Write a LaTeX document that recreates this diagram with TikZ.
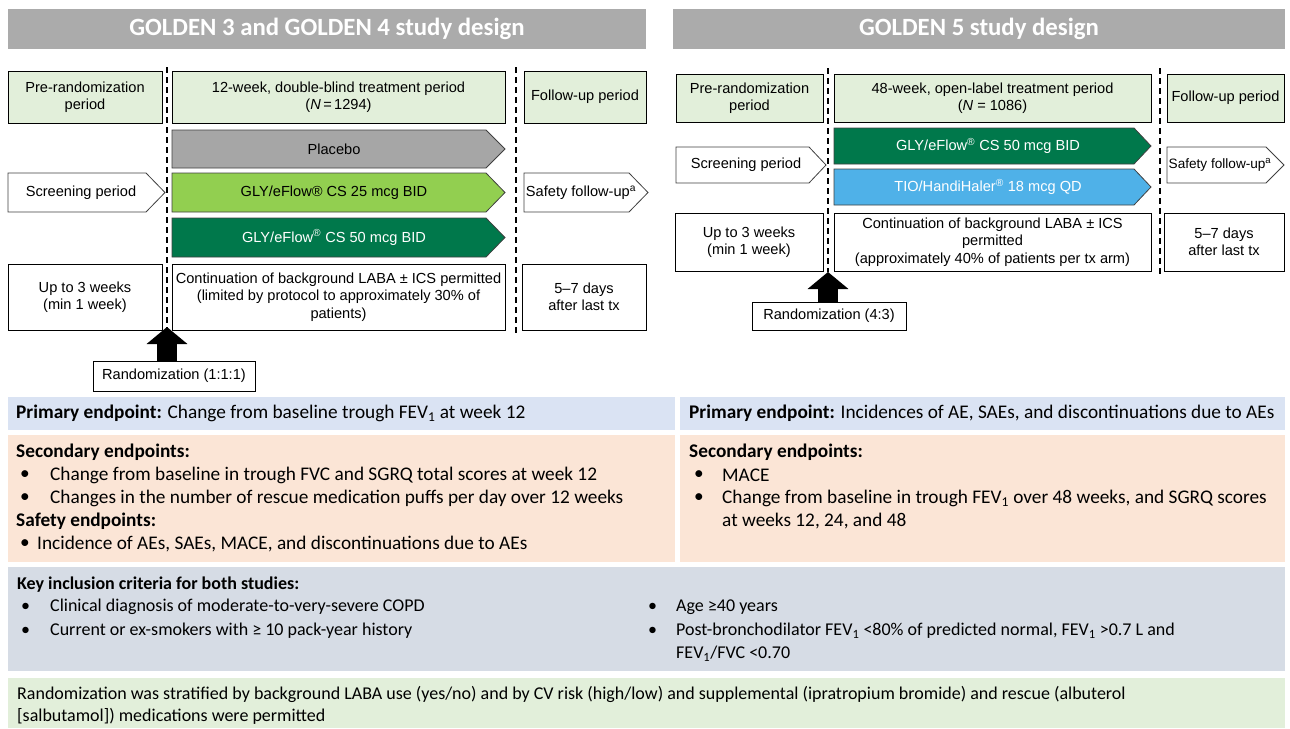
\documentclass[tikz,border=0pt]{standalone}
\usepackage{fontspec}
\setmainfont{Carlito}
\newfontfamily\arialfont{Liberation Sans}
\usepackage{tikz}
\usetikzlibrary{arrows.meta}

\definecolor{headgrey}{HTML}{ABABAB}
\definecolor{paleg}{HTML}{E2EFDA}
\definecolor{placebogrey}{HTML}{A6A6A6}
\definecolor{limeg}{HTML}{92CF50}
\definecolor{darkg}{HTML}{00784B}
\definecolor{skyb}{HTML}{4FB1E8}
\definecolor{paleblue}{HTML}{DAE3F3}
\definecolor{peach}{HTML}{FBE5D6}
\definecolor{slate}{HTML}{D6DCE5}

\begin{document}
\begin{tikzpicture}[x=1pt,y=-1pt,
		every node/.style={inner sep=0pt},
		head/.style={fill=headgrey, text=white, font=\fontsize{24.8}{28}\selectfont\bfseries},
		box/.style={draw=black, line width=0.8pt, align=center, font=\arialfont\fontsize{14.6}{17.5}\selectfont},
		bar/.style={draw=black!75, line width=0.8pt},
		armtext/.style={font=\arialfont\fontsize{14.6}{17.5}\selectfont},
		dashline/.style={line width=2pt, dash pattern=on 6pt off 4pt},
		bigarrow/.style={line width=20pt, -{Triangle[width=40pt,length=17pt]}},
		txt/.style={anchor=west, font=\fontsize{19.3}{23}\selectfont},
		smalltxt/.style={anchor=west, font=\fontsize{18}{22}\selectfont}]
	\useasboundingbox (0,0) rectangle (1290,728);

	% headers
	\node [head, minimum width=638pt, minimum height=40pt] (headL) at (327,29) {GOLDEN 3 and GOLDEN 4 study design};
	\node [head, minimum width=612pt, minimum height=40pt] (headR) at (979,29) {GOLDEN 5 study design};

	% GOLDEN 3 and 4
	\node [box, fill=paleg, minimum width=154pt, minimum height=52pt] (preL) at (85,97) {Pre-randomization\\period};
	\node [box, fill=paleg, minimum width=333pt, minimum height=52pt] (treatL) at (338.5,97) {12-week, double-blind treatment period\\(\textit{N}\,=\,1294)};
	\node [box, fill=paleg, minimum width=122pt, minimum height=52pt] (followL) at (585,97) {Follow-up period};
	\draw [bar, fill=placebogrey] (172,130) -- (486,130) -- (505,149) -- (486,168) -- (172,168) -- cycle;
	\node [armtext] (placebo) at (334,149) {Placebo};
	\draw [bar, fill=white] (8,173) -- (146,173) -- (165,192.5) -- (146,212) -- (8,212) -- cycle;
	\node [armtext] (screenL) at (81,192.5) {Screening period};
	\draw [bar, fill=limeg] (172,173) -- (486,173) -- (505,192.5) -- (486,212) -- (172,212) -- cycle;
	\node [armtext] (glyLow) at (334,192.5) {GLY/eFlow® CS 25 mcg BID};
	\draw [bar, fill=white] (524,173) -- (629,173) -- (648,192.5) -- (629,212) -- (524,212) -- cycle;
	\node [armtext] (safetyL) at (581,192.5) {Safety follow-up\textsuperscript{a}};
	\draw [bar, fill=darkg] (172,218) -- (486,218) -- (505,237.5) -- (486,257) -- (172,257) -- cycle;
	\node [armtext, text=white] (glyHighL) at (334,237.5) {GLY/eFlow\textsuperscript{®} CS 50 mcg BID};
	\node [box, fill=white, minimum width=154pt, minimum height=66pt] (uptoL) at (85,297) {Up to 3 weeks\\(min 1 week)};
	\node [box, fill=white, minimum width=333pt, minimum height=66pt] (contL) at (338.5,297) {Continuation of background LABA ± ICS permitted\\(limited by protocol to approximately 30\% of\\patients)};
	\node [box, fill=white, minimum width=124pt, minimum height=66pt] (daysL) at (584,297) {5–7 days\\after last tx};
	\node [box, fill=white, minimum width=162pt, minimum height=30pt] (randL) at (174,376) {Randomization (1:1:1)};
	\coordinate (cutL) at (167,327);
	\draw [dashline] (167,67) -- (167,330);
	\draw [dashline] (516,67) -- (516,333);
	\draw [bigarrow] (randL.north -| cutL) -- (cutL);

	% GOLDEN 5
	\node [box, fill=paleg, minimum width=147pt, minimum height=48pt] (preR) at (749.5,98) {Pre-randomization\\period};
	\node [box, fill=paleg, minimum width=317pt, minimum height=48pt] (treatR) at (992.5,98) {48-week, open-label treatment period\\(\textit{N} = 1086)};
	\node [box, fill=paleg, minimum width=117pt, minimum height=48pt] (followR) at (1225.5,98) {Follow-up period};
	\draw [bar, fill=darkg] (834,128) -- (1134,128) -- (1151,146) -- (1134,164) -- (834,164) -- cycle;
	\node [armtext, text=white] (glyHighR) at (988,146) {GLY/eFlow\textsuperscript{®} CS 50 mcg BID};
	\draw [bar, fill=white] (676,147) -- (809,147) -- (826,165) -- (809,183) -- (676,183) -- cycle;
	\node [armtext] (screenR) at (746,165) {Screening period};
	\draw [bar, fill=white] (1167,147) -- (1266,147) -- (1284,165) -- (1266,183) -- (1167,183) -- cycle;
	\node [armtext, font=\arialfont\fontsize{13.6}{16}\selectfont] (safetyR) at (1220,165) {Safety follow-up\textsuperscript{a}};
	\draw [bar, fill=skyb] (834,169) -- (1134,169) -- (1151,187) -- (1134,205) -- (834,205) -- cycle;
	\node [armtext, text=white] (tioR) at (988,187) {TIO/HandiHaler\textsuperscript{®} 18 mcg QD};
	\node [box, fill=white, minimum width=148pt, minimum height=58pt] (uptoR) at (749,242) {Up to 3 weeks\\(min 1 week)};
	\node [box, fill=white, minimum width=317pt, minimum height=58pt] (contR) at (992.5,242) {Continuation of background LABA ± ICS\\permitted\\(approximately 40\% of patients per tx arm)};
	\node [box, fill=white, minimum width=120pt, minimum height=58pt] (daysR) at (1224,242) {5–7 days\\after last tx};
	\node [box, fill=white, minimum width=154pt, minimum height=28pt] (randR) at (829,316) {Randomization (4:3)};
	\coordinate (cutR) at (828,272);
	\draw [dashline] (828,68) -- (828,272);
	\draw [dashline] (1160,68) -- (1160,276);
	\draw [bigarrow] (randR.north -| cutR) -- (cutR);

	% endpoints
	\fill [paleblue] (8,397) rectangle (675,430);
	\fill [paleblue] (680,397) rectangle (1285,430);
	\fill [peach] (8,435) rectangle (675,562);
	\fill [peach] (680,435) rectangle (1285,562);
	\node [txt] (primL) at (16,413.5) {\textbf{Primary endpoint:} Change from baseline trough FEV\textsubscript{1} at week 12};
	\node [txt] (primR) at (689,413.5) {\textbf{Primary endpoint:} Incidences of AE, SAEs, and discontinuations due to AEs};
	\node [txt] (secL) at (16,452) {\textbf{Secondary endpoints:}};
	\node [txt] (dotL1) at (20,475) {•};
	\node [txt] (secL1) at (50,475) {Change from baseline in trough FVC and SGRQ total scores at week 12};
	\node [txt] (dotL2) at (20,498) {•};
	\node [txt] (secL2) at (50,498) {Changes in the number of rescue medication puffs per day over 12 weeks};
	\node [txt] (safL) at (16,521) {\textbf{Safety endpoints:}};
	\node [txt] (dotL3) at (20,544) {•};
	\node [txt] (safL1) at (37,544) {Incidence of AEs, SAEs, MACE, and discontinuations due to AEs};
	\node [txt] (secR) at (689,452) {\textbf{Secondary endpoints:}};
	\node [txt] (dotR1) at (694,475) {•};
	\node [txt] (secR1) at (722,475) {MACE};
	\node [txt] (dotR2) at (694,498) {•};
	\node [txt] (secR2) at (722,498) {Change from baseline in trough FEV\textsubscript{1} over 48 weeks, and SGRQ scores};
	\node [txt] (secR3) at (722,521) {at weeks 12, 24, and 48};

	% inclusion criteria
	\fill [slate] (8,567) rectangle (1285,671);
	\node [smalltxt] (keyHead) at (17,585) {\textbf{Key inclusion criteria for both studies:}};
	\node [smalltxt] (dotK1) at (21,607) {•};
	\node [smalltxt] (keyL1) at (50,607) {Clinical diagnosis of moderate-to-very-severe COPD};
	\node [smalltxt] (dotK2) at (21,631) {•};
	\node [smalltxt] (keyL2) at (50,631) {Current or ex-smokers with ≥ 10 pack-year history};
	\node [smalltxt] (dotK3) at (648,607) {•};
	\node [smalltxt] (keyR1) at (676,607) {Age ≥40 years};
	\node [smalltxt] (dotK4) at (648,631) {•};
	\node [smalltxt] (keyR2) at (676,631) {Post-bronchodilator FEV\textsubscript{1} <80\% of predicted normal, FEV\textsubscript{1} >0.7 L and};
	\node [smalltxt] (keyR3) at (676,654) {FEV\textsubscript{1}/FVC <0.70};

	% note
	\fill [paleg] (8,678) rectangle (1285,728);
	\node [smalltxt] (noteA) at (17,694) {Randomization was stratified by background LABA use (yes/no) and by CV risk (high/low) and supplemental (ipratropium bromide) and rescue (albuterol};
	\node [smalltxt] (noteB) at (17,716) {[salbutamol]) medications were permitted};
\end{tikzpicture}
\end{document}
